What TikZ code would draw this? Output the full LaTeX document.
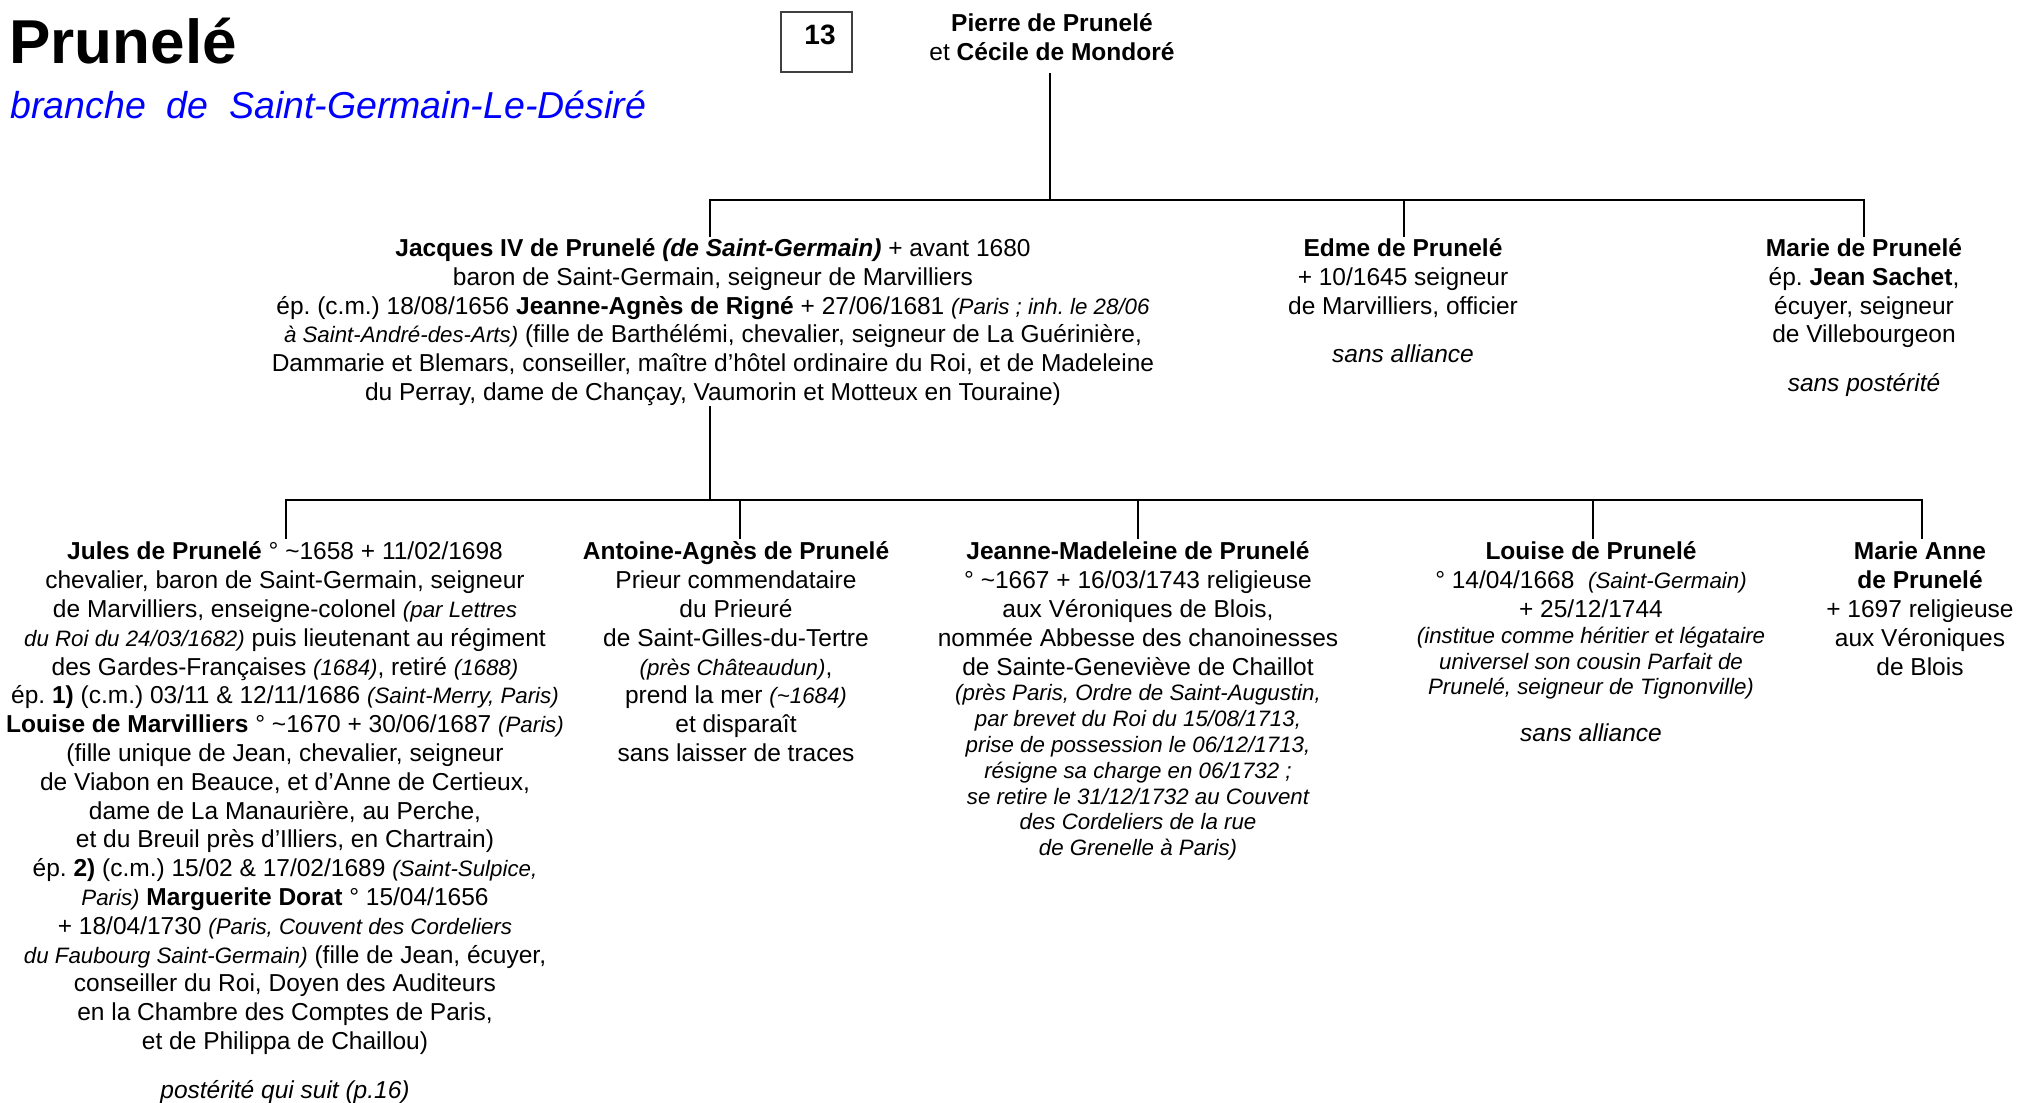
\documentclass[tikz,border=0pt]{standalone}
\usepackage{fontspec}
\setmainfont{Liberation Sans}
\frenchspacing
\newcommand{\rs}{\fontsize{12.25}{14.4}\selectfont}
\newcommand{\sit}[1]{{\fontsize{11.15}{14.4}\selectfont\itshape #1}}
\newcommand{\tld}{\textasciitilde}
\newcommand{\fst}{\rule{0pt}{12pt}}
\begin{document}
\begin{tikzpicture}[x=0.5pt,y=-0.5pt,
  person/.style={align=center, inner sep=0pt, anchor=north, font=\rs},
  link/.style={line width=1.25pt, line cap=rect},
  titlestyle/.style={anchor=base west, inner sep=0pt, font=\fontsize{31}{36}\selectfont\bfseries},
  subtitlestyle/.style={anchor=base west, inner sep=0pt, text=blue, font=\fontsize{18.75}{22}\selectfont\itshape},
  numbox/.style={draw=black!75, line width=0.6pt, minimum width=35.5pt, minimum height=30pt, inner sep=0pt},
  numstyle/.style={anchor=base, inner sep=0pt, font=\fontsize{14}{16}\selectfont\bfseries}]
\useasboundingbox (0,0) rectangle (2020,1103);

% titles
\node[titlestyle] (title) at (9,63) {Prunelé};
\node[subtitlestyle] (subtitle) at (10,118) {branche\ \ de\ \ Saint-Germain-Le-Désiré};
\node[numbox] (box13) at (816.5,42) {};
\node[numstyle] (num13) at (820,44.5) {13};

% generation 1
\node[person] (pierre) at (1052,7) {\fst\textbf{Pierre de Prunelé}\\ et \textbf{Cécile de Mondoré}};

% generation 2
\node[person] (jacques) at (713,232) {\fst\textbf{Jacques IV de Prunelé \textit{(de Saint-Germain)}} + avant 1680\\
baron de Saint-Germain, seigneur de Marvilliers\\
ép. (c.m.) 18/08/1656 \textbf{Jeanne-Agnès de Rigné} + 27/06/1681 \sit{(Paris ; inh. le 28/06}\\
\sit{à Saint-André-des-Arts)} (fille de Barthélémi, chevalier, seigneur de La Guérinière,\\
Dammarie et Blemars, conseiller, maître d’hôtel ordinaire du Roi, et de Madeleine\\
du Perray, dame de Chançay, Vaumorin et Motteux en Touraine)};

\node[person] (edme) at (1403,232) {\fst\textbf{Edme de Prunelé}\\
+ 10/1645 seigneur\\
de Marvilliers, officier\\[9.6pt]
\textit{sans alliance}};

\node[person] (marie) at (1864,232) {\fst\textbf{Marie de Prunelé}\\
ép. \textbf{Jean Sachet},\\
écuyer, seigneur\\
de Villebourgeon\\[9.8pt]
\textit{sans postérité}};

% generation 3
\node[person] (jules) at (285,535.5) {\fst\textbf{Jules de Prunelé} ° \tld1658 + 11/02/1698\\
chevalier, baron de Saint-Germain, seigneur\\
de Marvilliers, enseigne-colonel \sit{(par Lettres}\\
\sit{du Roi du 24/03/1682)} puis lieutenant au régiment\\
des Gardes-Françaises \sit{(1684)}, retiré \sit{(1688)}\\
ép. \textbf{1)} (c.m.) 03/11 \& 12/11/1686 \sit{(Saint-Merry, Paris)}\\
\textbf{Louise de Marvilliers} ° \tld1670 + 30/06/1687 \sit{(Paris)}\\
(fille unique de Jean, chevalier, seigneur\\
de Viabon en Beauce, et d’Anne de Certieux,\\
dame de La Manaurière, au Perche,\\
et du Breuil près d’Illiers, en Chartrain)\\
ép. \textbf{2)} (c.m.) 15/02 \& 17/02/1689 \sit{(Saint-Sulpice,}\\
\sit{Paris)} \textbf{Marguerite Dorat} ° 15/04/1656\\
+ 18/04/1730 \sit{(Paris, Couvent des Cordeliers}\\
\sit{du Faubourg Saint-Germain)} (fille de Jean, écuyer,\\
conseiller du Roi, Doyen des Auditeurs\\
en la Chambre des Comptes de Paris,\\
et de Philippa de Chaillou)\\[10pt]
\textit{postérité qui suit (p.16)}};

\node[person] (antoine) at (736,535.5) {\fst\textbf{Antoine-Agnès de Prunelé}\\
Prieur commendataire\\
du Prieuré\\
de Saint-Gilles-du-Tertre\\
\sit{(près Châteaudun)},\\
prend la mer \sit{(\tld1684)}\\
et disparaît\\
sans laisser de traces};

\node[person] (jeanne) at (1138,535.5) {\fst\textbf{Jeanne-Madeleine de Prunelé}\\
° \tld1667 + 16/03/1743 religieuse\\
aux Véroniques de Blois,\\
nommée Abbesse des chanoinesses\\
de Sainte-Geneviève de Chaillot\\[-1.5pt]
\sit{(près Paris, Ordre de Saint-Augustin,}\\[-1.5pt]
\sit{par brevet du Roi du 15/08/1713,}\\[-1.5pt]
\sit{prise de possession le 06/12/1713,}\\[-1.5pt]
\sit{résigne sa charge en 06/1732 ;}\\[-1.5pt]
\sit{se retire le 31/12/1732 au Couvent}\\[-1.5pt]
\sit{des Cordeliers de la rue}\\[-1.5pt]
\sit{de Grenelle à Paris)}};

\node[person] (louise) at (1591,535.5) {\fst\textbf{Louise de Prunelé}\\
° 14/04/1668\ \ \sit{(Saint-Germain)}\\
+ 25/12/1744\\[-1.5pt]
\sit{(institue comme héritier et légataire}\\[-1.5pt]
\sit{universel son cousin Parfait de}\\[-1.5pt]
\sit{Prunelé, seigneur de Tignonville)}\\[9.1pt]
\textit{sans alliance}};

\node[person] (marieanne) at (1920,535.5) {\fst\textbf{Marie Anne}\\
\textbf{de Prunelé}\\
+ 1697 religieuse\\
aux Véroniques\\
de Blois};

% connector points
\coordinate (pB) at (1050,74);
\coordinate (b1c) at (1050,200);
\coordinate (b1L) at (710,200);
\coordinate (b1M) at (1404,200);
\coordinate (b1R) at (1864,200);
\coordinate (jacT) at (710,236);
\coordinate (edmT) at (1404,236);
\coordinate (marT) at (1864,236);
\coordinate (jacB) at (710,407);
\coordinate (b2c) at (710,500);
\coordinate (b2L) at (286,500);
\coordinate (b2A) at (740,500);
\coordinate (b2J) at (1138,500);
\coordinate (b2Lo) at (1593,500);
\coordinate (b2R) at (1922,500);
\coordinate (julT) at (286,538);
\coordinate (antT) at (740,538);
\coordinate (jeaT) at (1138,538);
\coordinate (louT) at (1593,538);
\coordinate (maaT) at (1922,538);

\draw[link] (pB) -- (b1c);
\draw[link] (b1L) -- (b1R);
\draw[link] (b1L) -- (jacT);
\draw[link] (b1M) -- (edmT);
\draw[link] (b1R) -- (marT);
\draw[link] (jacB) -- (b2c);
\draw[link] (b2L) -- (b2R);
\draw[link] (b2L) -- (julT);
\draw[link] (b2A) -- (antT);
\draw[link] (b2J) -- (jeaT);
\draw[link] (b2Lo) -- (louT);
\draw[link] (b2R) -- (maaT);
\end{tikzpicture}
\end{document}
